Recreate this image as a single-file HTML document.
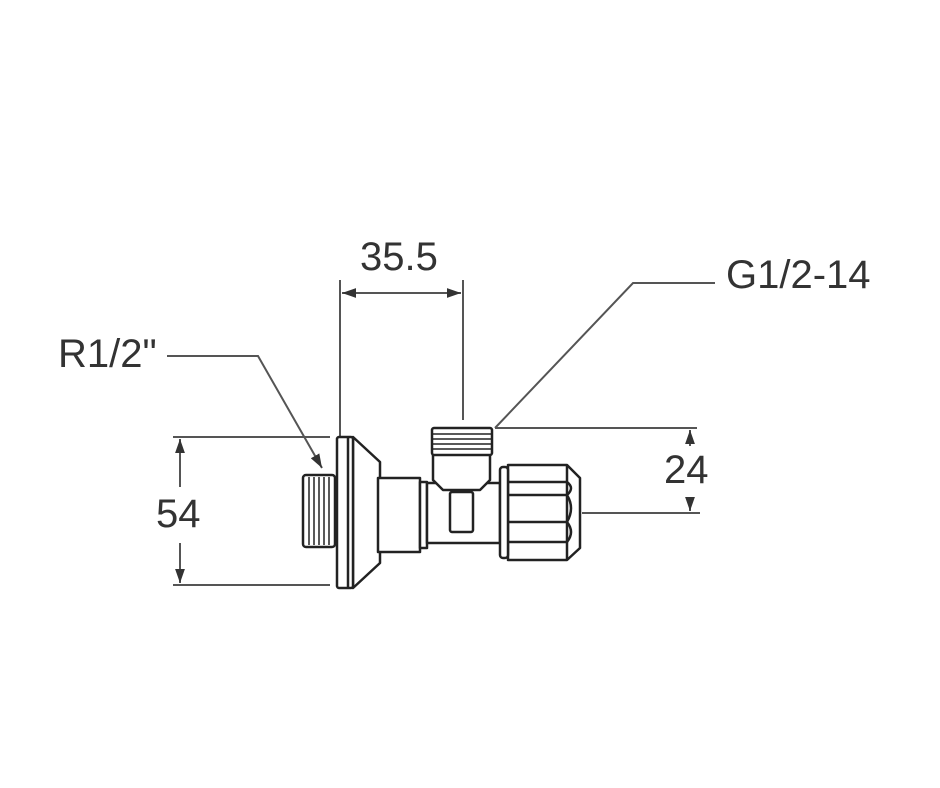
<!DOCTYPE html>
<html><head><style>
html,body{margin:0;padding:0;background:#fff;}
svg{display:block;}
text{font-family:"Liberation Sans",sans-serif;font-size:40px;fill:#333;}
</style></head><body>
<svg width="940" height="788" viewBox="0 0 940 788" xmlns="http://www.w3.org/2000/svg">
<defs>
<marker id="a" viewBox="0 0 10 10" refX="10" refY="5" markerWidth="7" markerHeight="7" orient="auto-start-reverse"><path d="M0,1.5 L10,5 L0,8.5 z" fill="#333"/></marker>
</defs>
<g stroke="#555" stroke-width="2" fill="none">
<line x1="340" y1="280" x2="340" y2="437"/>
<line x1="463" y1="280" x2="463" y2="420"/>
<line x1="342" y1="293" x2="461" y2="293" marker-start="url(#a)" marker-end="url(#a)"/>
<line x1="173" y1="437" x2="330" y2="437"/>
<line x1="173" y1="585" x2="330" y2="585"/>
<line x1="180" y1="487" x2="180" y2="439" marker-end="url(#a)"/>
<line x1="180" y1="543" x2="180" y2="583" marker-end="url(#a)"/>
<polyline points="167,356 258,356 322,468" marker-end="url(#a)"/>
<polyline points="715,283 633,283 495,428"/>
<line x1="495" y1="428" x2="697" y2="428"/>
<line x1="582" y1="513" x2="700" y2="513"/>
<line x1="690" y1="446" x2="690" y2="430" marker-end="url(#a)"/>
<line x1="690" y1="497" x2="690" y2="511" marker-end="url(#a)"/>
</g>
<g stroke="#222" stroke-width="2.5" fill="#fff" stroke-linejoin="round">
<rect x="303" y="475" width="32" height="72" rx="3"/>
<g stroke-width="1.5"><line x1="309" y1="477" x2="309" y2="545"/><line x1="314" y1="477" x2="314" y2="545"/><line x1="319" y1="477" x2="319" y2="545"/><line x1="324" y1="477" x2="324" y2="545"/><line x1="329" y1="477" x2="329" y2="545"/></g>
<path d="M353,437 L380,462 L380,563 L353,588 Z"/>
<rect x="337" y="437" width="16" height="151" rx="2"/>
<line x1="348" y1="438" x2="348" y2="587"/>
<rect x="378" y="478" width="42" height="74"/>
<rect x="420" y="482" width="7" height="66"/>
<rect x="427" y="483" width="73" height="60"/>
<path d="M433,455 L433,480 L443,490 L480,490 L490,480 L490,455"/>
<rect x="450" y="492" width="23" height="40" rx="2"/>
<rect x="432" y="428" width="60" height="27" rx="2"/>
<g stroke-width="1.5"><line x1="433" y1="434" x2="491" y2="434"/><line x1="433" y1="439" x2="491" y2="439"/><line x1="433" y1="444" x2="491" y2="444"/><line x1="433" y1="449" x2="491" y2="449"/></g>
<path d="M508,465 L567,465 L580,478 L580,548 L567,560 L508,560 Z"/>
<rect x="500" y="467" width="8" height="91" rx="3"/>
<line x1="508" y1="482" x2="567" y2="482"/>
<line x1="508" y1="495" x2="567" y2="495"/>
<line x1="508" y1="522" x2="567" y2="522"/>
<line x1="508" y1="542" x2="567" y2="542"/>
<path d="M567,482 Q575,488 567,495 Q575,508 567,522 Q575,532 567,542" fill="none"/>
<line x1="567" y1="465" x2="567" y2="560"/>
</g>
<text x="360" y="270">35.5</text>
<text x="58" y="367">R1/2"</text>
<text x="726" y="288">G1/2-14</text>
<text x="156" y="527">54</text>
<text x="664" y="483">24</text>
</svg>
</body></html>
